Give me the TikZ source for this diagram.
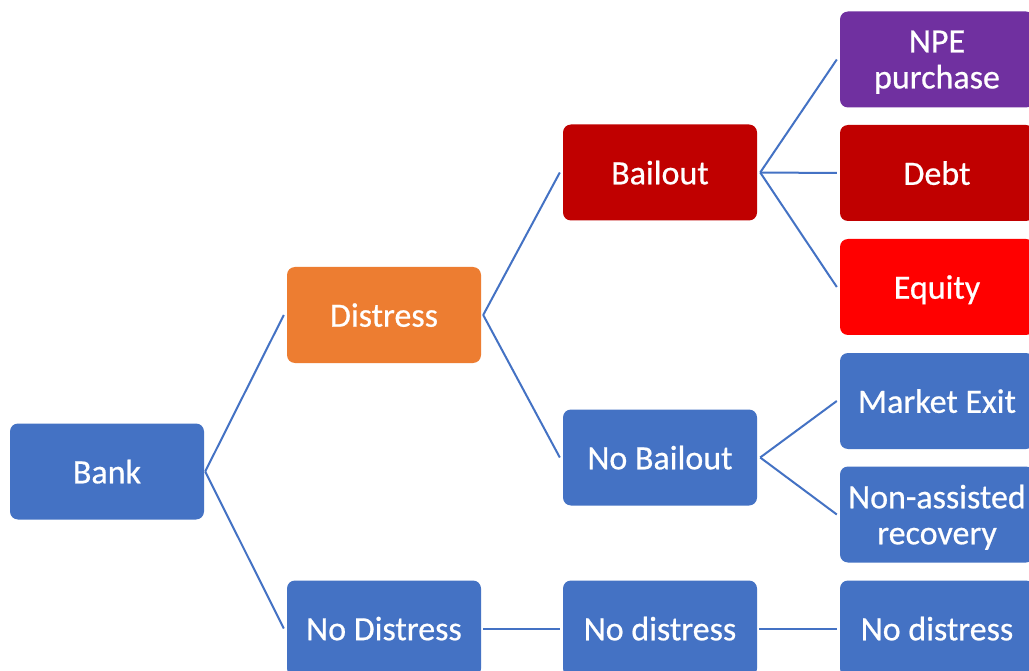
\documentclass[tikz,border=0pt]{standalone}
\usepackage{fontspec}
\setmainfont{Carlito}
\newfontfamily\boxfont{Carlito}[FakeBold=0.6]
\definecolor{cblue}{HTML}{4472C4}
\definecolor{corange}{HTML}{ED7D31}
\definecolor{cdred}{HTML}{C00000}
\definecolor{cred}{HTML}{FF0000}
\definecolor{cpurple}{HTML}{7030A0}
\begin{document}
\begin{tikzpicture}[x=1pt,y=-1pt,
  box/.style={rounded corners=8pt, minimum width=194pt, minimum height=96pt, inner sep=0pt,
    text depth=0pt, text=white, align=center, font=\boxfont\fontsize{34}{36}\selectfont, fill=cblue},
  link/.style={draw=cblue, line width=2pt}]
\clip (0,0) rectangle (1029,671);
\fill[white] (0,0) rectangle (1029,671);
\node[box] (bank) at (107,471.5) {Bank};
\node[box, fill=corange] (distress) at (384,315) {Distress};
\node[box] (nodistress) at (384,628.5) {No Distress};
\node[box, fill=cdred] (bailout) at (660,172.5) {Bailout};
\node[box] (nobailout) at (660,457.5) {No Bailout};
\node[box] (nodist2) at (660,628.5) {No distress};
\node[box, fill=cpurple] (npe) at (937,59.5) {NPE\\purchase};
\node[box, fill=cdred] (debt) at (937,173) {Debt};
\node[box, fill=cred] (equity) at (937,287) {Equity};
\node[box] (exit) at (937,401) {Market Exit};
\node[box] (nonassist) at (937,514.5) {Non-assisted\\recovery};
\node[box] (nodist3) at (937,628.5) {No distress};
\draw[link] ([xshift=1pt]bank.east) -- ([xshift=-3pt]distress.west);
\draw[link] ([xshift=1pt]bank.east) -- ([xshift=-3pt]nodistress.west);
\draw[link] ([xshift=2pt]distress.east) -- ([xshift=-3pt]bailout.west);
\draw[link] ([xshift=2pt]distress.east) -- ([xshift=-3pt]nobailout.west);
\draw[link] ([xshift=2pt]nodistress.east) -- ([xshift=-3pt]nodist2.west);
\draw[link] ([xshift=3pt]bailout.east) -- ([xshift=-3pt]npe.west);
\draw[link] ([xshift=3pt]bailout.east) -- ([xshift=-3pt]debt.west);
\draw[link] ([xshift=3pt]bailout.east) -- ([xshift=-3pt]equity.west);
\draw[link] ([xshift=3pt]nobailout.east) -- ([xshift=-3pt]exit.west);
\draw[link] ([xshift=3pt]nobailout.east) -- ([xshift=-3pt]nonassist.west);
\draw[link] ([xshift=2pt]nodist2.east) -- ([xshift=-3pt]nodist3.west);
\end{tikzpicture}
\end{document}
